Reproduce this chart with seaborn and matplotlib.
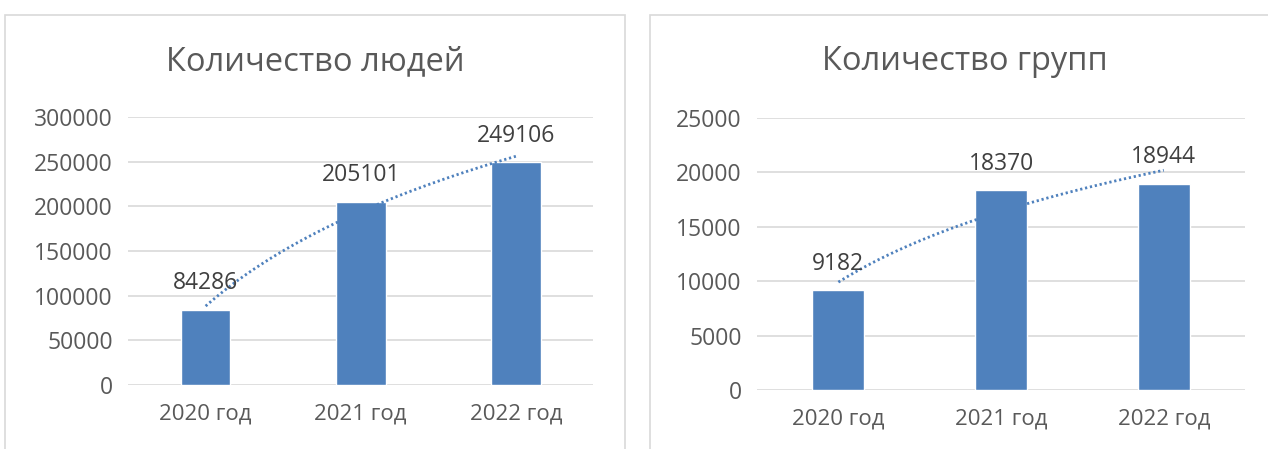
import numpy as np
import pandas as pd
import matplotlib
matplotlib.use("Agg")
import matplotlib.pyplot as plt
import seaborn as sns
from matplotlib.patches import Rectangle

# -- Данные
years = ["2020 год", "2021 год", "2022 год"]
people = [84286, 205101, 249106]
groups = [9182, 18370, 18944]

titles = ["Количество людей", "Количество групп"]
ylims = [300000, 25000]
ysteps = [50000, 5000]

BAR = "#4F81BD"
GRID = "#D9D9D9"
TXT = "#595959"
LBL = "#404040"

sns.set_theme(style="white")
plt.rcParams['font.family'] = ['Open Sans', 'DejaVu Sans']

fig = plt.figure(figsize=(12.68, 4.49), dpi=100)

# рамки вокруг двух диаграмм (как в Excel)
for x0, x1 in [(5, 625), (650, 1275)]:
    fig.patches.append(Rectangle((x0 / 1268, -0.05), (x1 - x0) / 1268, 1.05 - 15 / 449,
                                 transform=fig.transFigure, fill=False,
                                 edgecolor=GRID, linewidth=1.2))

positions = [[0.101, 0.1425, 0.367, 0.597], [0.597, 0.1314, 0.385, 0.606]]
title_x = [315 / 1268, 965 / 1268]

for i, vals in enumerate([people, groups]):
    ax = fig.add_axes(positions[i])
    df = pd.DataFrame({"year": years, "value": vals})
    sns.barplot(data=df, x="year", y="value", color=BAR, width=0.32,
                saturation=1, ax=ax, zorder=3)

    # логарифмическая линия тренда (как в Excel)
    xi = np.arange(1, len(vals) + 1)
    a, b = np.polyfit(np.log(xi), vals, 1)
    xs = np.linspace(1, len(vals), 100)
    ax.plot(xs - 1, a * np.log(xs) + b, linestyle=(0, (0.8, 1.0)), color=BAR,
            linewidth=2.0, zorder=4)

    # подписи значений
    for k, v in enumerate(vals):
        ax.annotate(str(v), (k, v), xytext=(0, 19), textcoords="offset points",
                    ha="center", va="center", fontsize=16.5, color=LBL, zorder=5)

    ax.set_ylim(0, ylims[i])
    ax.set_xlim(-0.5, 2.5)
    ax.set_yticks(np.arange(0, ylims[i] + 1, ysteps[i]))
    ax.yaxis.grid(True, color=GRID, linewidth=1.2, zorder=0)
    ax.set_axisbelow(True)
    for s in ax.spines.values():
        s.set_visible(False)
    ax.tick_params(axis="y", length=0, pad=11, labelsize=16.5, labelcolor=TXT)
    ax.tick_params(axis="x", length=0, pad=13, labelsize=16, labelcolor=TXT)
    ax.set_xlabel("")
    ax.set_ylabel("")

    fig.text(title_x[i], 1 - 62 / 449, titles[i], ha="center", va="center",
             fontsize=23.5, color=TXT)

fig.savefig("out.png", dpi=100)
